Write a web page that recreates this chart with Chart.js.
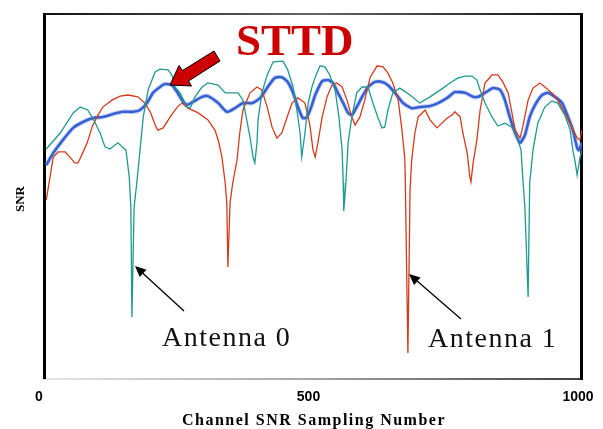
<!DOCTYPE html>
<html>
<head>
<meta charset="utf-8">
<script src="https://cdn.jsdelivr.net/npm/chart.js@4"></script>
<style>
  body { margin: 0; background: #fff; }
  #wrap { width: 603px; height: 429px; }
</style>
</head>
<body>
<div id="wrap"><canvas id="snrChart" width="603" height="429"></canvas></div>
<script>
// Antenna 0 (teal)
const ant0Idx = [6,32,56,69,83,96,106,115,124,139,147,154,160,163,165,169,174,180,186,195,208,217,232,239,245,254,267,273,282,295,306,325,338,362,371,378,384,390,393,397,399,406,416,427,445,454,464,471,477,480,486,492,499,505,514,523,532,542,549,555,557,558,562,566,573,582,592,603,612,621,629,634,640,649,662,681,699,718,742,755,770,783,796,805,811,820,833,844,857,870,879,887,890,894,900,903,909,918,931,944,955,968,978,983,987,991,996,1000];
const ant0Snr = [63.0,67.4,72.9,74.5,73.7,70.4,67.4,63.6,63.0,64.7,63.6,62.7,55.3,47.1,17.0,47.1,53.7,62.7,71.8,79.2,84.1,84.9,84.7,83.3,80.0,78.4,74.5,74.2,77.3,80.0,81.1,80.5,78.4,78.4,76.4,71.0,66.3,60.6,59.2,64.7,71.0,78.4,83.3,86.9,87.1,84.7,80.0,73.7,67.4,60.8,67.4,75.6,80.0,82.7,85.8,85.5,83.3,79.2,71.8,62.7,53.7,46.0,53.7,64.7,71.8,78.4,80.0,80.0,75.6,71.8,68.8,69.0,73.7,78.4,79.7,77.8,75.6,77.3,79.7,81.1,82.5,83.0,83.0,81.9,79.2,75.6,71.8,69.3,70.1,69.0,66.3,62.7,55.3,47.1,22.5,53.7,62.7,70.1,74.5,76.2,75.6,72.3,68.2,62.7,59.7,55.9,60.5,62.7];

// Antenna 1 (red)
const ant1Idx = [6,13,19,28,41,50,59,65,72,82,91,100,111,128,143,158,176,189,199,208,213,223,236,249,258,269,288,306,319,325,332,338,341,343,347,352,360,365,371,384,397,406,416,425,434,443,453,462,473,486,495,501,505,510,518,527,536,545,555,564,573,579,588,597,607,620,631,640,649,659,666,671,672,677,681,684,690,696,709,718,731,740,750,759,764,774,779,787,792,794,798,805,811,820,833,844,853,863,870,876,885,890,900,909,922,931,944,955,968,981,991,996,1000];
const ant1Snr = [49.0,55.3,60.8,62.2,62.2,60.8,59.2,59.2,61.4,64.7,69.0,71.8,74.5,76.4,77.5,77.8,77.3,75.6,73.2,69.6,68.2,68.8,71.8,74.5,75.6,74.2,72.9,71.0,68.2,65.5,60.8,53.7,48.2,30.7,48.2,53.7,60.0,67.4,73.7,78.4,80.0,79.2,74.5,69.0,66.0,67.4,71.8,75.6,77.0,75.6,69.6,62.7,60.8,64.7,71.8,77.3,80.5,81.1,80.0,76.4,71.8,69.6,71.8,76.4,82.7,85.8,85.5,83.8,81.1,76.4,68.2,60.8,55.9,7.1,51.8,60.0,67.4,71.8,73.7,71.0,68.8,70.1,71.5,72.3,73.2,71.8,67.4,61.9,55.3,54.0,59.2,65.5,73.7,81.1,83.3,83.3,81.4,78.4,72.9,68.2,66.0,69.0,76.4,79.7,81.1,80.0,78.4,76.4,72.9,69.0,66.0,65.5,68.2];

// STTD (blue)
const sttdIdx = [6,19,37,56,74,93,111,130,148,167,180,193,204,217,226,239,249,258,267,278,295,306,325,341,356,371,388,403,417,430,443,454,464,473,482,490,499,505,518,529,538,547,557,566,573,582,592,603,616,629,640,653,668,684,699,718,733,750,764,783,798,807,820,835,848,857,866,876,885,894,903,913,926,937,950,963,974,983,991,994,1000];
const sttdSnr = [58.6,61.9,65.5,68.8,70.4,71.5,71.8,72.6,73.2,73.2,73.7,75.6,78.4,80.0,80.8,80.5,78.6,76.4,75.1,75.9,77.3,77.5,75.6,73.2,74.2,75.6,75.6,77.0,80.0,82.5,82.7,81.4,78.4,74.5,71.5,71.8,75.1,77.8,81.6,81.9,81.1,78.4,75.6,72.9,72.3,74.5,77.3,80.0,81.4,81.4,80.5,78.4,75.6,74.2,74.5,74.8,75.6,77.0,78.6,78.4,77.3,77.3,78.4,79.7,79.2,76.4,71.8,67.4,64.7,66.8,71.8,75.1,77.8,78.4,77.3,75.6,71.8,68.2,63.3,62.7,64.7];

const xTicks = [0, 500, 1000];

function toPoints(xs, ys) {
    return xs.map((x, i) => ({ x: x, y: ys[i] }));
}

function arrowLine(ctx, x1, y1, x2, y2) {
    const ang = Math.atan2(y2 - y1, x2 - x1);
    ctx.beginPath();
    ctx.moveTo(x1, y1);
    ctx.lineTo(x2 - 8 * Math.cos(ang), y2 - 8 * Math.sin(ang));
    ctx.stroke();
    ctx.beginPath();
    ctx.moveTo(x2, y2);
    ctx.lineTo(x2 - 11 * Math.cos(ang) + 5 * Math.sin(ang), y2 - 11 * Math.sin(ang) - 5 * Math.cos(ang));
    ctx.lineTo(x2 - 11 * Math.cos(ang) - 5 * Math.sin(ang), y2 - 11 * Math.sin(ang) + 5 * Math.cos(ang));
    ctx.closePath();
    ctx.fill();
}

// frame, labels and arrows
const decor = {
    id: 'decor',
    beforeDatasetsDraw(chart) {
        const ctx = chart.ctx;
        const a = chart.chartArea;
        ctx.save();
        // top
        let g = ctx.createLinearGradient(a.left, 0, a.right, 0);
        g.addColorStop(0, '#111');
        g.addColorStop(0.5, '#666');
        g.addColorStop(1, '#111');
        ctx.strokeStyle = g;
        ctx.lineWidth = 2;
        ctx.beginPath();
        ctx.moveTo(a.left, a.top);
        ctx.lineTo(a.right, a.top);
        ctx.stroke();
        // bottom
        g = ctx.createLinearGradient(a.left, 0, a.right, 0);
        g.addColorStop(0, '#ddd');
        g.addColorStop(0.5, '#888');
        g.addColorStop(1, '#000');
        ctx.strokeStyle = g;
        ctx.lineWidth = 1.5;
        ctx.beginPath();
        ctx.moveTo(a.left, a.bottom);
        ctx.lineTo(a.right, a.bottom);
        ctx.stroke();
        // left + right
        ctx.fillStyle = '#000';
        ctx.fillRect(a.left, a.top - 1, 3, a.bottom - a.top + 1);
        ctx.fillRect(a.right - 2, a.top - 1, 3, a.bottom - a.top + 2);
        ctx.restore();
    },
    afterDraw(chart) {
        const ctx = chart.ctx;
        ctx.save();
        ctx.fillStyle = '#000';
        // axis titles
        ctx.font = 'bold 16px "Liberation Serif"';
        ctx.letterSpacing = '1.5px';
        ctx.textAlign = 'center';
        ctx.textBaseline = 'alphabetic';
        ctx.fillText('Channel SNR Sampling Number', 314, 425);
        ctx.letterSpacing = '0px';
        ctx.save();
        ctx.translate(24, 199);
        ctx.rotate(-Math.PI / 2);
        ctx.font = 'bold 13px "Liberation Serif"';
        ctx.fillText('SNR', 0, 0);
        ctx.restore();

        // STTD label with block arrow
        ctx.textAlign = 'left';
        ctx.fillStyle = '#cc0000';
        ctx.font = 'bold 45px "Liberation Serif"';
        ctx.fillText('STTD', 236, 55);
        ctx.beginPath();
        ctx.moveTo(170, 85);
        ctx.lineTo(179, 65.5);
        ctx.lineTo(182.5, 70.5);
        ctx.lineTo(214, 51);
        ctx.lineTo(220, 61);
        ctx.lineTo(188.5, 81);
        ctx.lineTo(191.5, 86);
        ctx.closePath();
        ctx.fill();
        ctx.strokeStyle = '#000';
        ctx.lineWidth = 1;
        ctx.stroke();

        // antenna labels
        ctx.fillStyle = '#111';
        ctx.font = '28px "Liberation Serif"';
        ctx.letterSpacing = '1.5px';
        ctx.fillText('Antenna 0', 162, 346);
        ctx.fillText('Antenna 1', 428, 347);
        ctx.letterSpacing = '0px';
        ctx.strokeStyle = '#000';
        ctx.fillStyle = '#000';
        ctx.lineWidth = 1.3;
        arrowLine(ctx, 184, 311, 135, 266);
        arrowLine(ctx, 461, 319, 409, 274);
        ctx.restore();
    }
};

const ctx = document.getElementById('snrChart').getContext('2d');
const snrChart = new Chart(ctx, {
    type: 'line',
    data: {
        datasets: [
            {
                label: 'Antenna 0',
                data: toPoints(ant0Idx, ant0Snr),
                borderColor: '#1e9a8e',
                borderWidth: 1.3,
                pointRadius: 0,
                tension: 0
            },
            {
                label: 'Antenna 1',
                data: toPoints(ant1Idx, ant1Snr),
                borderColor: '#d43a1c',
                borderWidth: 1.3,
                pointRadius: 0,
                tension: 0
            },
            {
                label: 'STTD halo',
                data: toPoints(sttdIdx, sttdSnr),
                borderColor: 'rgba(120,150,230,0.4)',
                borderWidth: 4.5,
                pointRadius: 0,
                tension: 0.2
            },
            {
                label: 'STTD',
                data: toPoints(sttdIdx, sttdSnr),
                borderColor: '#0a3cc8',
                borderWidth: 2.6,
                pointRadius: 0,
                tension: 0.2
            }
        ]
    },
    options: {
        responsive: false,
        animation: false,
        devicePixelRatio: 1,
        layout: { padding: { left: 43, right: 21, top: 14, bottom: 0 } },
        plugins: {
            legend: { display: false },
            tooltip: { enabled: false }
        },
        scales: {
            x: {
                type: 'linear',
                min: 0,
                max: 1000,
                afterFit: scale => {
                    scale.height = 50;
                    scale.paddingLeft = 0;
                    scale.paddingRight = 0;
                },
                afterBuildTicks: scale => { scale.ticks = xTicks.map(v => ({ value: v })); },
                ticks: {
                    color: '#000',
                    padding: 10,
                    labelOffset: -4,
                    maxRotation: 0,
                    callback: v => String(v),
                    font: { family: '"Liberation Sans"', weight: 'bold', size: 14 }
                },
                grid: { display: false, drawTicks: false },
                border: { display: false }
            },
            y: {
                display: false,
                min: 0,
                max: 100
            }
        }
    },
    plugins: [decor]
});
</script>
</body>
</html>
